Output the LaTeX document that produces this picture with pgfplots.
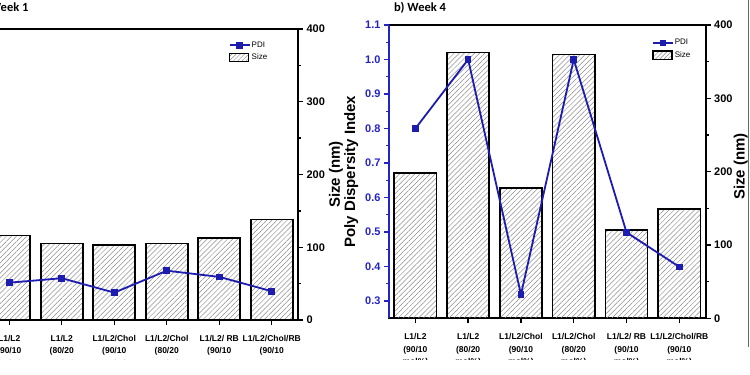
\documentclass[border=0pt]{standalone}
\usepackage{pgfplots}
\pgfplotsset{compat=1.18}
\usetikzlibrary{patterns.meta}
\usepackage{fontspec}
\setmainfont{Liberation Sans}
\newfontfamily\calibri{Carlito}
\definecolor{pdiline}{RGB}{28,28,175}
\definecolor{pdiaxis}{RGB}{35,35,200}

\pgfplotsset{
  panel/.style={
    scale only axis, xmin=-0.5, xmax=5.5, clip=false,
    axis line style={line width=1.8pt},
    tick align=outside,
    major tick length=5pt, minor tick length=3pt,
    every tick/.style={line width=1.4pt, black},
    /pgf/number format/assume math mode=true,
    ticklabel style={font=\bfseries\fontsize{11}{11}\selectfont},
  },
  sizeaxis/.style={
    panel, ymin=0, ymax=400, ytick={0,100,200,300,400}, minor y tick num=1,
    ytick pos=right, yticklabel pos=right, xtick pos=left,
    xtick={0,1,2,3,4,5},
    xticklabels={{L1/L2\\(90/10\\mol\%)},{L1/L2\\(80/20\\mol\%)},{L1/L2/Chol\\(90/10\\mol\%)},{L1/L2/Chol\\(80/20\\mol\%)},{L1/L2/ RB\\(90/10\\mol\%)},{L1/L2/Chol/RB\\(90/10\\mol\%)}},
    x tick label style={align=center, font=\bfseries\fontsize{8.5}{12.7}\selectfont, yshift=-6.5pt},
    ylabel={Size (nm)},
    ylabel style={font=\bfseries\fontsize{15}{15}\selectfont, at={(axis description cs:1,0.5)}, anchor=center},
  },
  barstyle/.style={ybar, bar width=0.8, bar shift=0pt, draw=black, line width=1.6pt,
    pattern={Lines[angle=45,distance=3.6pt,line width=0.5pt]}, pattern color=black!45},
  pdiplot/.style={color=pdiline, line width=1.8pt, mark=square*, mark size=2.4pt,
    mark options={solid, fill=pdiline},
    legend image code/.code={\draw[mark repeat=2,mark phase=2,##1] plot coordinates {(0pt,0pt) (10pt,0pt) (20pt,0pt)};}},
  sizelegend/.style={draw=black, line width=1.3pt,
    pattern={Lines[angle=45,distance=3pt,line width=0.5pt]}, pattern color=black!45,
    legend image code/.code={\draw[##1] (0pt,-4.2pt) rectangle (19pt,4.2pt);}},
  pdilegend/.style={legend style={draw=none, fill=none, inner sep=0pt, row sep=3pt,
    font=\fontsize{8}{9}\selectfont, legend cell align=left,
    nodes={inner sep=1pt}}},
}

\begin{document}
\begin{tikzpicture}
\begin{scope}
\clip (0pt,15pt) rectangle (750pt,375pt);

% ---------- Panel a (Week 1) ----------
\begin{axis}[sizeaxis, at={(-17pt,55pt)}, anchor=south west, width=315pt, height=291pt,
  ylabel style={yshift=-38pt}]
\addplot[barstyle] coordinates {(0,115.9) (1,105.4) (2,102.7) (3,104.9) (4,113.1) (5,137.9)};
\end{axis}
\begin{axis}[panel, at={(-17pt,55pt)}, anchor=south west, width=315pt, height=291pt,
  ymin=0.25, ymax=1.1, axis lines=none, pdilegend,
  legend style={at={(0.78,0.96)}, anchor=north west}]
\addplot[pdiplot] coordinates {(0,0.359) (1,0.372) (2,0.330) (3,0.394) (4,0.376) (5,0.334)};
\addlegendentry{PDI}
\addlegendimage{sizelegend}
\addlegendentry{Size}
\end{axis}

% ---------- Panel b (Week 4) ----------
\begin{axis}[sizeaxis, at={(389pt,56.7pt)}, anchor=south west, width=316.7pt, height=293.3pt,
  ylabel style={yshift=-35pt, xshift=5pt}]
\addplot[barstyle] coordinates {(0,198.5) (1,362.7) (2,178) (3,360) (4,120.4) (5,149)};
\end{axis}
\begin{axis}[panel, at={(389pt,56.7pt)}, anchor=south west, width=316.7pt, height=293.3pt,
  ymin=0.25, ymax=1.1, axis y line*=left, axis x line=none,
  ytick={0.3,0.4,0.5,0.6,0.7,0.8,0.9,1.0,1.1}, minor y tick num=1,
  y axis line style={pdiaxis},
  y tick style={pdiaxis},
  yticklabel style={pdiaxis, /pgf/number format/.cd, fixed, fixed zerofill, precision=1},
  ylabel={Poly Dispersity Index},
  ylabel style={font=\bfseries\fontsize{15}{15}\selectfont, black},
  pdilegend,
  legend style={at={(0.83,0.955)}, anchor=north west}]
\addplot[pdiplot] coordinates {(0,0.80) (1,1.00) (2,0.319) (3,1.00) (4,0.499) (5,0.399)};
\addlegendentry{PDI}
\addlegendimage{sizelegend}
\addlegendentry{Size}
\end{axis}

\node[font=\calibri\bfseries\fontsize{12.5}{12.5}\selectfont, anchor=base east] at (32pt,363pt) {a) Week 1};
\node[font=\calibri\bfseries\fontsize{12.5}{12.5}\selectfont, anchor=base west] at (390.5pt,363pt) {b) Week 4};
\draw[black!60, line width=0.9pt] (748.8pt,28pt) -- (748.8pt,375pt);
\end{scope}
\pgfresetboundingbox
\useasboundingbox (0pt,0pt) rectangle (750pt,375pt);
\end{tikzpicture}
\end{document}
